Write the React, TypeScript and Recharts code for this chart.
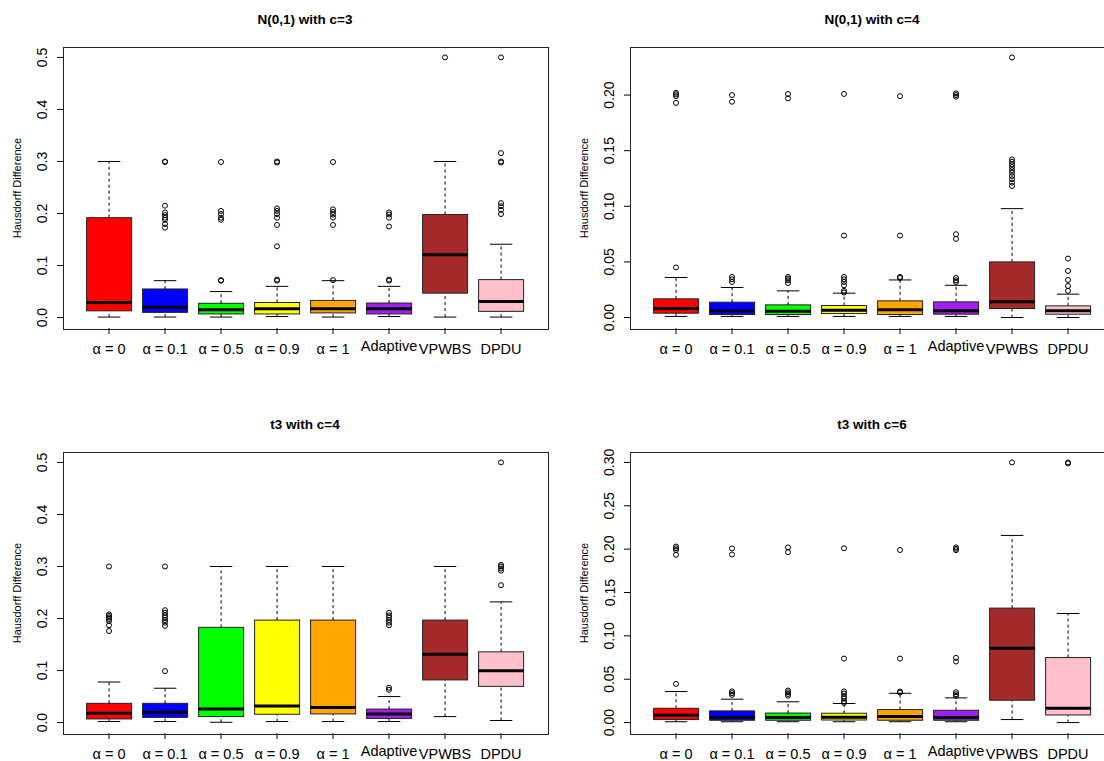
import React from "react";
import { ComposedChart, Bar, Scatter, XAxis, YAxis } from "recharts";

const CATEGORIES = ["α = 0", "α = 0.1", "α = 0.5", "α = 0.9", "α = 1", "Adaptive", "VPWBS", "DPDU"];
const BOX_FILLS = ["#FF0000", "#0000FF", "#00FF00", "#FFFF00", "#FFA500", "#A020F0", "#A52A2A", "#FFC0CB"];

// [lower whisker, Q1, median, Q3, upper whisker] per method
const n3Stats = [
  [0.001, 0.013, 0.029, 0.192, 0.3],
  [0.001, 0.01, 0.02, 0.055, 0.071],
  [0.001, 0.007, 0.015, 0.0275, 0.05],
  [0.002, 0.007, 0.017, 0.029, 0.06],
  [0.001, 0.009, 0.017, 0.033, 0.071],
  [0.002, 0.007, 0.017, 0.028, 0.06],
  [0.001, 0.047, 0.121, 0.198, 0.3],
  [0.001, 0.012, 0.031, 0.073, 0.141],
];
const n3Outliers = [
  [],
  [0.3, 0.299, 0.215, 0.202, 0.197, 0.192, 0.188, 0.18, 0.173],
  [0.299, 0.205, 0.199, 0.192, 0.188, 0.072, 0.071],
  [0.3, 0.298, 0.21, 0.205, 0.199, 0.192, 0.178, 0.137, 0.073, 0.071],
  [0.299, 0.208, 0.203, 0.198, 0.192, 0.178, 0.072],
  [0.202, 0.198, 0.192, 0.175, 0.073, 0.071],
  [0.5],
  [0.5, 0.316, 0.3, 0.298, 0.22, 0.214, 0.207, 0.199],
];

const n4Stats = [
  [0.001, 0.0039, 0.0081, 0.0168, 0.036],
  [0.001, 0.0027, 0.006, 0.0138, 0.027],
  [0.001, 0.0027, 0.0057, 0.0114, 0.024],
  [0.001, 0.0036, 0.0066, 0.0108, 0.0219],
  [0.001, 0.0027, 0.0069, 0.015, 0.0338],
  [0.001, 0.003, 0.006, 0.0141, 0.029],
  [0.0, 0.0081, 0.0141, 0.05, 0.0979],
  [0.0, 0.003, 0.006, 0.0105, 0.021],
];
const n4Outliers = [
  [0.202, 0.2006, 0.199, 0.193, 0.045],
  [0.2, 0.194, 0.0365, 0.0344, 0.032],
  [0.201, 0.197, 0.0365, 0.035, 0.0335, 0.031],
  [0.201, 0.0737, 0.0365, 0.0344, 0.032, 0.029, 0.024, 0.0225],
  [0.199, 0.0737, 0.0365, 0.0356],
  [0.2015, 0.2, 0.1985, 0.0749, 0.0707, 0.0356, 0.0335, 0.032],
  [0.2338, 0.1422, 0.1401, 0.1377, 0.1353, 0.1326, 0.1302, 0.1272, 0.1243, 0.1213, 0.1183],
  [0.053, 0.0419, 0.0338, 0.0284, 0.024],
];

const t4Stats = [
  [0.002, 0.007, 0.018, 0.037, 0.078],
  [0.002, 0.01, 0.02, 0.037, 0.066],
  [0.0006, 0.0115, 0.026, 0.183, 0.3],
  [0.002, 0.016, 0.032, 0.197, 0.3],
  [0.002, 0.0166, 0.029, 0.197, 0.3],
  [0.002, 0.008, 0.0166, 0.026, 0.05],
  [0.0115, 0.082, 0.1315, 0.197, 0.3],
  [0.004, 0.0696, 0.0996, 0.136, 0.232],
];
const t4Outliers = [
  [0.3, 0.208, 0.205, 0.202, 0.199, 0.195, 0.187, 0.176],
  [0.3, 0.216, 0.211, 0.206, 0.202, 0.197, 0.192, 0.186, 0.099],
  [],
  [],
  [],
  [0.211, 0.206, 0.202, 0.197, 0.192, 0.187, 0.067, 0.063],
  [],
  [0.5, 0.303, 0.3, 0.296, 0.292, 0.264],
];

const t6Stats = [
  [0.001, 0.0035, 0.0085, 0.0165, 0.0358],
  [0.001, 0.0027, 0.0058, 0.0135, 0.027],
  [0.001, 0.0027, 0.0058, 0.011, 0.024],
  [0.001, 0.003, 0.0062, 0.0108, 0.022],
  [0.001, 0.0027, 0.0069, 0.015, 0.0338],
  [0.001, 0.0027, 0.0058, 0.0142, 0.0285],
  [0.0035, 0.0258, 0.0858, 0.132, 0.2158],
  [0.0, 0.0088, 0.0165, 0.075, 0.1258],
];
const t6Outliers = [
  [0.203, 0.201, 0.199, 0.1935, 0.0446],
  [0.2008, 0.1938, 0.036, 0.034, 0.032],
  [0.202, 0.1965, 0.037, 0.035, 0.033, 0.031],
  [0.201, 0.0738, 0.036, 0.0335, 0.03, 0.0277, 0.0246, 0.0227],
  [0.199, 0.0738, 0.0358, 0.0346],
  [0.202, 0.2004, 0.1988, 0.0746, 0.0704, 0.035, 0.0327, 0.0308],
  [0.3],
  [0.3, 0.2988],
];

const TICKS_05 = [0, 0.1, 0.2, 0.3, 0.4, 0.5];
const TICKS_020 = [0, 0.05, 0.1, 0.15, 0.2];
const TICKS_030 = [0, 0.05, 0.1, 0.15, 0.2, 0.25, 0.3];

const FONT = "'Liberation Sans', Arial, Helvetica, sans-serif";
const PLOT_W = 484;
const PLOT_H = 281;
const Y_AXIS_W = 62;
const X_AXIS_H = 40;
const TOP_PAD = 47;

function buildRows(stats: number[][], outliers: number[][]) {
  return CATEGORIES.map((name, i) => {
    const [mn, q1, md, q3, mx] = stats[i];
    const row: any = { name, lo: mn, w1: q1 - mn, b1: md - q1, b2: q3 - md, w2: mx - q3 };
    outliers[i].forEach((v, k) => {
      row[`o${k}`] = v;
    });
    return row;
  });
}

const span = (p: any) => {
  const top = Math.min(p.y, p.y + p.height);
  const bottom = Math.max(p.y, p.y + p.height);
  return { top, bottom, cx: p.x + p.width / 2 };
};

const LowerWhisker = (p: any) => {
  const { top, bottom, cx } = span(p);
  const half = p.width / 4;
  return (
    <g>
      <line x1={cx} x2={cx} y1={bottom} y2={top} stroke="#000" strokeDasharray="3 3" />
      <line x1={cx - half} x2={cx + half} y1={bottom} y2={bottom} stroke="#000" />
    </g>
  );
};

const UpperWhisker = (p: any) => {
  const { top, bottom, cx } = span(p);
  const half = p.width / 4;
  return (
    <g>
      <line x1={cx} x2={cx} y1={bottom} y2={top} stroke="#000" strokeDasharray="3 3" />
      <line x1={cx - half} x2={cx + half} y1={top} y2={top} stroke="#000" />
    </g>
  );
};

const LowerBox = (p: any) => {
  const { top, bottom } = span(p);
  return <rect x={p.x} y={top} width={p.width} height={bottom - top} fill={BOX_FILLS[p.index]} stroke="#222" />;
};

const UpperBox = (p: any) => {
  const { top, bottom } = span(p);
  return (
    <g>
      <rect x={p.x} y={top} width={p.width} height={bottom - top} fill={BOX_FILLS[p.index]} stroke="#222" />
      <line x1={p.x} x2={p.x + p.width} y1={bottom} y2={bottom} stroke="#000" strokeWidth={3} />
    </g>
  );
};

const Outlier = (p: any) => {
  if (p.payload == null || p.payload[p.k] == null || p.cy == null || isNaN(p.cy)) return <g />;
  return <circle cx={p.cx} cy={p.cy} r={2.5} fill="none" stroke="#000" strokeWidth={1} />;
};

const XTick = (p: any) => {
  const v = p.payload.value;
  return (
    <text x={p.x} y={p.y + (v === "Adaptive" ? 14.5 : 17.5)} textAnchor="middle" fontSize={14.5} fontFamily={FONT} fill="#000">
      {v}
    </text>
  );
};

const YTick = (p: any) => {
  const tx = p.x - 7.5;
  return (
    <text x={tx} y={p.y} transform={`rotate(-90 ${tx} ${p.y})`} textAnchor="middle" fontSize={14} fontFamily={FONT} fill="#000">
      {Number(p.payload.value).toFixed(p.digits)}
    </text>
  );
};

function BoxPanel(props: {
  title: string;
  stats: number[][];
  outliers: number[][];
  yDomain: [number, number];
  yTicks: number[];
  digits: number;
  plotLeft: number;
  plotTop: number;
}) {
  const { title, stats, outliers, yDomain, yTicks, digits, plotLeft, plotTop } = props;
  const rows = buildRows(stats, outliers);
  const maxOut = Math.max(...outliers.map((o) => o.length));
  const keys = Array.from({ length: maxOut }, (_, k) => `o${k}`);

  return (
    <>
      <div style={{ position: "absolute", left: plotLeft - Y_AXIS_W, top: plotTop - TOP_PAD }}>
        <ComposedChart
          width={Y_AXIS_W + PLOT_W + 10}
          height={TOP_PAD + PLOT_H + X_AXIS_H}
          data={rows}
          margin={{ top: TOP_PAD, right: 10, bottom: 0, left: 0 }}
          barCategoryGap="10%"
        >
          <XAxis
            dataKey="name"
            interval={0}
            height={X_AXIS_H}
            padding={{ left: 18, right: 18 }}
            axisLine={false}
            tickSize={6}
            tickLine={{ stroke: "#000" }}
            tick={<XTick />}
          />
          <YAxis
            type="number"
            domain={yDomain}
            allowDataOverflow
            ticks={yTicks}
            interval={0}
            width={Y_AXIS_W}
            axisLine={false}
            tickSize={6}
            tickLine={{ stroke: "#000" }}
            tick={(p: any) => <YTick {...p} digits={digits} />}
          />
          <Bar dataKey="lo" stackId="box" shape={() => <g />} isAnimationActive={false} />
          <Bar dataKey="w1" stackId="box" shape={LowerWhisker} isAnimationActive={false} />
          <Bar dataKey="b1" stackId="box" shape={LowerBox} isAnimationActive={false} />
          <Bar dataKey="b2" stackId="box" shape={UpperBox} isAnimationActive={false} />
          <Bar dataKey="w2" stackId="box" shape={UpperWhisker} isAnimationActive={false} />
          {keys.map((k) => (
            <Scatter key={k} dataKey={k} isAnimationActive={false} shape={(p: any) => <Outlier {...p} k={k} />} />
          ))}
        </ComposedChart>
      </div>
      <div
        style={{
          position: "absolute",
          left: plotLeft,
          top: plotTop - 34.6,
          width: PLOT_W,
          textAlign: "center",
          fontFamily: FONT,
          fontWeight: "bold",
          fontSize: 13.5,
          lineHeight: "16px",
          whiteSpace: "nowrap",
        }}
      >
        {title}
      </div>
      <div
        style={{
          position: "absolute",
          left: plotLeft - 46.5,
          top: plotTop + PLOT_H / 2,
          transform: "translate(-50%, -50%) rotate(-90deg)",
          fontFamily: FONT,
          fontSize: 11,
          lineHeight: "12px",
          whiteSpace: "nowrap",
        }}
      >
        Hausdorff Difference
      </div>
      <div
        style={{
          position: "absolute",
          left: plotLeft - 0.5,
          top: plotTop - 0.5,
          width: PLOT_W,
          height: PLOT_H,
          border: "1px solid #222",
          pointerEvents: "none",
        }}
      />
    </>
  );
}

export default function App() {
  return (
    <div style={{ position: "absolute", left: 0, top: 0, width: 1104, height: 761, overflow: "hidden", background: "#fff" }}>
      <BoxPanel title="N(0,1) with c=3" stats={n3Stats} outliers={n3Outliers} yDomain={[-0.02, 0.52]} yTicks={TICKS_05} digits={1} plotLeft={63} plotTop={47} />
      <BoxPanel title="N(0,1) with c=4" stats={n4Stats} outliers={n4Outliers} yDomain={[-0.0094, 0.2432]} yTicks={TICKS_020} digits={2} plotLeft={630} plotTop={47} />
      <BoxPanel title="t3 with c=4" stats={t4Stats} outliers={t4Outliers} yDomain={[-0.02, 0.52]} yTicks={TICKS_05} digits={1} plotLeft={63} plotTop={452} />
      <BoxPanel title="t3 with c=6" stats={t6Stats} outliers={t6Outliers} yDomain={[-0.012, 0.312]} yTicks={TICKS_030} digits={2} plotLeft={630} plotTop={452} />
    </div>
  );
}
